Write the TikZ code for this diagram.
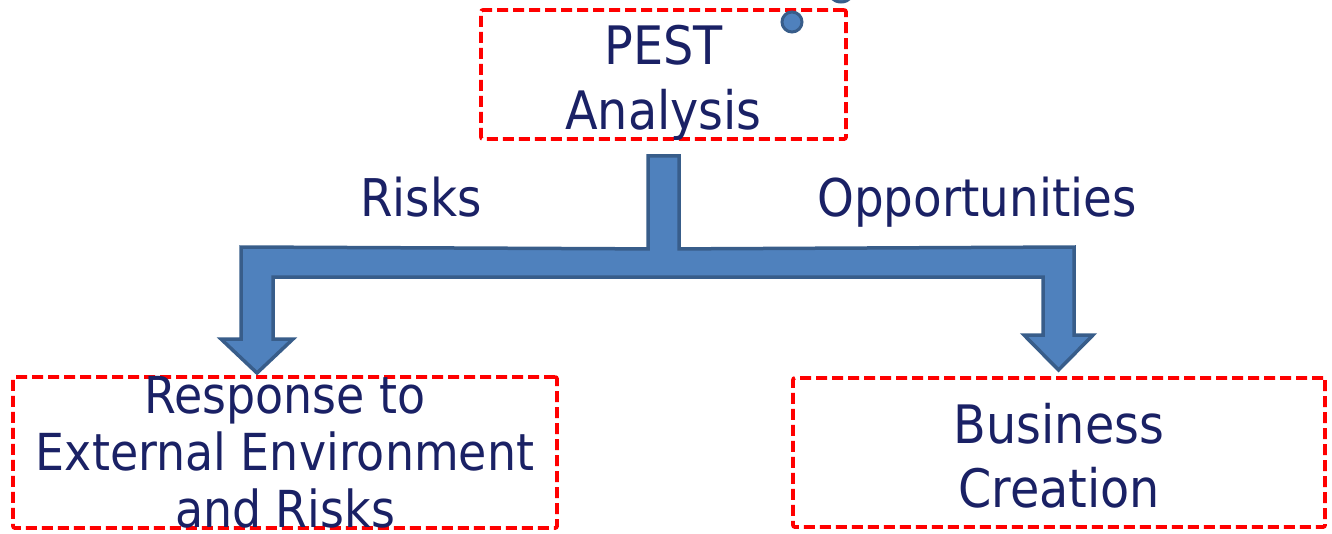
\documentclass[tikz,border=0pt]{standalone}
\usepackage{fontspec}
\newfontfamily\diagfont{DejaVu Sans}[FakeStretch=0.9]
\usetikzlibrary{calc}
\definecolor{inkblue}{HTML}{1A2165}
\definecolor{arrowfill}{HTML}{4F81BD}
\definecolor{arrowline}{HTML}{385D8A}
\definecolor{boxred}{HTML}{FF0000}
\tikzset{
  redbox/.style={draw=boxred, line width=3.8pt, dash pattern=on 11pt off 5pt,
    rounded corners=2pt, inner sep=0pt},
  boxtext/.style={text=inkblue, align=center, inner sep=0pt},
  lbltext/.style={text=inkblue, inner sep=0pt, anchor=base,
    font=\diagfont\fontsize{52}{64}\selectfont},
  blockarrow/.style={fill=arrowfill, draw=arrowline, line width=3.5pt, line join=miter},
  dot/.style={circle, fill=arrowfill, draw=arrowline, line width=3pt, inner sep=0pt}
}
\begin{document}
\begin{tikzpicture}[x=1pt, y=-1pt]
\useasboundingbox (0,0) rectangle (1332,533);

% boxes
\node[redbox, minimum width=365pt, minimum height=129pt] (pest) at (663.5,74.5) {};
\node[redbox, minimum width=544pt, minimum height=151pt] (resp) at (285,452.5) {};
\node[redbox, minimum width=532pt, minimum height=149pt] (biz) at (1059,452.5) {};

% box texts
\node[boxtext, font=\diagfont\fontsize{53}{65}\selectfont] (pestText) at (663.5,82.5) {PEST\\Analysis};
\node[boxtext, font=\diagfont\fontsize{51}{57}\selectfont] (respText) at (285,452) {Response to\\External Environment\\and Risks};
\node[boxtext, font=\diagfont\fontsize{53}{64}\selectfont] (bizText) at (1059,455.7) {Business\\Creation};

% branch labels
\node[lbltext] (risks) at (421,216) {Risks};
\node[lbltext] (opps) at (977,216) {Opportunities};

% split block arrow from the analysis box to both outcomes
\coordinate (stem) at ($(pest.south)+(0,15)$);
\coordinate (ltip) at (257,373);
\coordinate (rtip) at (1058.5,370);
\draw[blockarrow]
  ($(stem)+(-15.5,0)$) -- ($(stem)+(15.5,0)$) -- ($(stem)+(15.5,93)$)
  -- ($(rtip)+(15.5,-123)$) -- ($(rtip)+(15.5,-35)$) -- ($(rtip)+(34.5,-35)$)
  -- (rtip)
  -- ($(rtip)+(-34.5,-35)$) -- ($(rtip)+(-15.5,-35)$) -- ($(rtip)+(-15.5,-93)$)
  -- ($(ltip)+(16,-96)$) -- ($(ltip)+(16,-34)$) -- ($(ltip)+(36,-34)$)
  -- (ltip)
  -- ($(ltip)+(-36,-34)$) -- ($(ltip)+(-16,-34)$) -- ($(ltip)+(-16,-126)$)
  -- ($(stem)+(-15.5,93)$) -- cycle;

% small markers near the top box
\node[dot, minimum size=20pt] (dotA) at (792,22) {};
\node[dot, minimum size=28pt] (dotB) at (841,-12) {};
\end{tikzpicture}
\end{document}
